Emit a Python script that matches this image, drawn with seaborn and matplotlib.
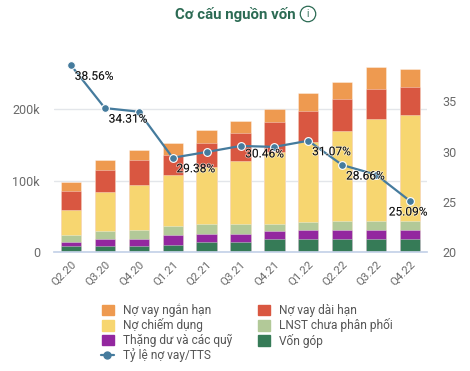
import numpy as np
import pandas as pd
import matplotlib
matplotlib.use("Agg")
import matplotlib.pyplot as plt
import matplotlib.patheffects as pe
from matplotlib.lines import Line2D
from matplotlib.patches import Patch
from matplotlib.legend_handler import HandlerLine2D
import seaborn as sns

quarters = ["Q2.20", "Q3.20", "Q4.20", "Q1.21", "Q2.21", "Q3.21", "Q4.21", "Q1.22", "Q2.22", "Q3.22", "Q4.22"]

# thousands
von_gop = [9, 9, 9, 10, 14.5, 14.5, 18.6, 18.6, 18.6, 18.6, 18.6]
thang_du = [5.5, 9.6, 9.6, 14, 11, 11, 11.4, 12.4, 12.4, 12.4, 12.4]
lnst = [9.5, 11.4, 12.4, 13, 14.4, 14.4, 10, 11, 13, 13, 13]
no_chiem_dung = [35, 54, 63, 71, 79, 88, 100, 112, 126, 142.5, 148]
no_dai_han = [27, 31, 35, 28, 34, 39, 42, 44, 44, 41.5, 39]
no_ngan_han = [12, 14, 14, 17, 18, 17, 18, 25, 24, 31, 25]

ty_le = [38.56, 34.31, 33.95, 29.38, 29.95, 30.55, 30.46, 31.07, 28.66, 27.7, 25.09]
labelled = ["Q2.20", "Q3.20", "Q1.21", "Q4.21", "Q1.22", "Q2.22", "Q4.22"]

# label offsets from the point, in pixels
label_offsets = {"Q4.21": (-10, -7), "Q4.22": (-2, -11)}

sns.set_theme(style="white")
plt.rcParams["font.family"] = ["Roboto", "DejaVu Sans"]

GREY = "#6A6A6A"
W, H = 470, 371

fig = plt.figure(figsize=(W / 100, H / 100), dpi=100)
ax = fig.add_axes([54 / W, 1 - 252.3 / H, 373 / W, 192.3 / H])

# stack bars, tallest first so each one covers the upper part of the next
series = [
    ("Nợ vay ngắn hạn", no_ngan_han, "#EE9A50"),
    ("Nợ vay dài hạn", no_dai_han, "#D95741"),
    ("Nợ chiếm dụng", no_chiem_dung, "#F7D670"),
    ("LNST chưa phân phối", lnst, "#B2C998"),
    ("Thặng dư và các quỹ", thang_du, "#93279F"),
    ("Vốn góp", von_gop, "#367B57"),
]
tops = np.cumsum([s[1] for s in series[::-1]], axis=0)[::-1]
for (name, _, color), top in zip(series, tops):
    df = pd.DataFrame({"quarter": quarters, "value": top})
    sns.barplot(data=df, x="quarter", y="value", color=color, saturation=1, width=0.6,
                edgecolor=(1, 1, 1, 0.35), linewidth=0.7, ax=ax, zorder=2)

ax.set_xlim(-0.5, 10.5)
ax.set_ylim(0, 269)
ax.set_yticks([0, 100, 200])
ax.set_yticklabels(["0", "100k", "200k"])
ax.set_xlabel("")
ax.set_ylabel("")
ax.grid(axis="y", color="#E3E6EA", linewidth=1)
ax.set_axisbelow(True)
sns.despine(ax=ax, left=True, right=True, top=True)
ax.spines["bottom"].set_color("#C5D2E8")
ax.tick_params(axis="y", length=0, pad=10, labelsize=9, labelcolor=GREY)
ax.tick_params(axis="x", length=0, pad=5, labelsize=8.2, labelcolor=GREY)
for t in ax.get_xticklabels():
    t.set_rotation(45)
    t.set_ha("right")
    t.set_va("top")
    t.set_rotation_mode("anchor")

ax2 = ax.twinx()
line_df = pd.DataFrame({"quarter": quarters, "ratio": ty_le})
sns.lineplot(data=line_df, x="quarter", y="ratio", color="#457B9D", linewidth=1.6, sort=False,
             marker="o", markersize=5.6, markeredgecolor="white", markeredgewidth=0.8,
             legend=False, ax=ax2, zorder=3)
ax2.set_ylim(20, 39.08)
ax2.set_yticks([20, 25, 30, 35])
ax2.set_xlabel("")
ax2.set_ylabel("")
ax2.grid(False)
sns.despine(ax=ax2, left=True, right=True, top=True, bottom=True)
ax2.tick_params(axis="y", length=0, pad=11, labelsize=9, labelcolor=GREY)

for i, (q, v) in enumerate(zip(quarters, ty_le)):
    if q not in labelled:
        continue
    dx, dy = label_offsets.get(q, (23, -11))
    ax2.annotate(f"{v:.2f}%", (i, v), xytext=(dx * 0.72, dy * 0.72), textcoords="offset points",
                 ha="center", va="center", fontsize=8.6, color="#111111", zorder=5,
                 path_effects=[pe.withStroke(linewidth=1.2, foreground=(1, 1, 1, 0.55))])

fig.text(235 / W, 1 - 14 / H, "Cơ cấu nguồn vốn", ha="center", va="center",
         fontsize=10.8, fontweight="bold", color="#2C6B54")
fig.text(308 / W, 1 - 14 / H, "i", ha="center", va="center", fontsize=7, color="#2C6B54",
         bbox=dict(boxstyle="circle,pad=0.28", fc="none", ec="#2C6B54", lw=0.9))

by_name = {s[0]: s[2] for s in series}
col_order = ["Nợ vay ngắn hạn", "Nợ chiếm dụng", "Thặng dư và các quỹ"]
col2_order = ["Nợ vay dài hạn", "LNST chưa phân phối", "Vốn góp"]
ratio_handle = Line2D([], [], color="#457B9D", linewidth=1.6, marker="o", markersize=5)
handles = [Patch(color=by_name[n]) for n in col_order] + [ratio_handle] + [Patch(color=by_name[n]) for n in col2_order]
names = col_order + ["Tỷ lệ nợ vay/TTS"] + col2_order
fig.legend(handles, names, ncol=2, loc="upper left", bbox_to_anchor=(102 / W, 1 - 303.5 / H),
           borderaxespad=0, borderpad=0, frameon=False, fontsize=8.6, labelcolor="#555555",
           handlelength=1.0, handleheight=1.0, handletextpad=0.75, labelspacing=0.12, columnspacing=2.17,
           handler_map={ratio_handle: HandlerLine2D(xpad=-0.12)})

fig.savefig("out.png", dpi=100)
